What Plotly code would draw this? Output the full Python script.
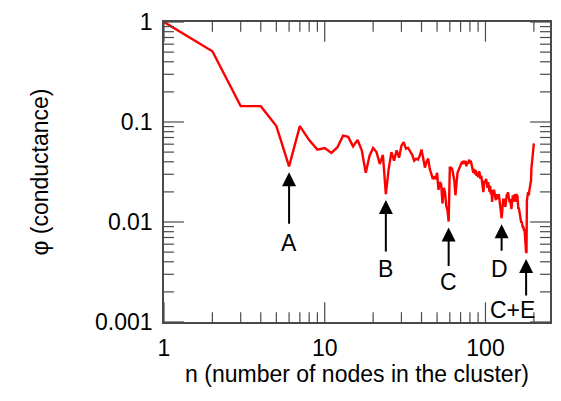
import math
import plotly.graph_objects as go

# cluster size n and conductance phi
n_values = list(range(1, 201))
phi_values = [
    1.0, 0.51, 0.144, 0.144, 0.091, 0.036, 0.091, 0.066, 0.053, 0.055,
    0.049, 0.056, 0.073, 0.071, 0.057, 0.066, 0.052, 0.031, 0.046, 0.055,
    0.050, 0.038, 0.047, 0.019, 0.034, 0.050, 0.041, 0.052, 0.044, 0.058,
    0.063, 0.054, 0.055, 0.051, 0.047, 0.041, 0.043, 0.042, 0.046, 0.053,
    0.042, 0.035, 0.040, 0.043, 0.034, 0.030, 0.027, 0.028, 0.027, 0.031,
    0.021, 0.025, 0.024, 0.0153, 0.022, 0.020, 0.0145, 0.0131, 0.0101, 0.035,
    0.035, 0.034, 0.030, 0.026, 0.0185, 0.024, 0.031, 0.033, 0.036, 0.037,
    0.039, 0.038, 0.041, 0.038, 0.041, 0.036, 0.040, 0.038, 0.042, 0.039,
    0.041, 0.036, 0.035, 0.031, 0.034, 0.030, 0.033, 0.029, 0.031, 0.028,
    0.032, 0.031, 0.027, 0.029, 0.026, 0.023, 0.0199, 0.024, 0.026, 0.025,
    0.027, 0.024, 0.022, 0.025, 0.021, 0.020, 0.023, 0.019, 0.021, 0.0159,
    0.020, 0.019, 0.021, 0.019, 0.018, 0.0165, 0.019, 0.017, 0.018, 0.0171,
    0.019, 0.016, 0.0145, 0.0136, 0.0122, 0.0109, 0.0125, 0.0150, 0.0171, 0.016,
    0.0171, 0.015, 0.0142, 0.016, 0.0175, 0.019, 0.0185, 0.0199, 0.018, 0.0185,
    0.016, 0.0159, 0.017, 0.0145, 0.0135, 0.015, 0.0165, 0.0185, 0.0178, 0.016,
    0.0175, 0.019, 0.0175, 0.0159, 0.017, 0.0191, 0.018, 0.0185, 0.0142, 0.0135,
    0.014, 0.013, 0.0126, 0.012, 0.011, 0.0105, 0.0098, 0.0101, 0.0094, 0.0094,
    0.0087, 0.0090, 0.0085, 0.0081, 0.0085, 0.0075, 0.0068, 0.0062, 0.0049, 0.0050,
    0.0165, 0.018, 0.0175, 0.0199, 0.019, 0.0185, 0.020, 0.0214, 0.022, 0.023,
    0.024, 0.026, 0.034, 0.037, 0.039, 0.044, 0.050, 0.055, 0.058, 0.061,
]

# marked local minima
marker_labels = ["A", "B", "C", "D", "C+E"]
marker_n = [6, 24, 59, 126, 179]

x_tick_vals = [1, 10, 100]
x_tick_text = ["1", "10", "100"]
x_minor_vals = [2, 3, 4, 5, 6, 7, 8, 9, 20, 30, 40, 50, 60, 70, 80, 90, 200]
y_tick_vals = [0.001, 0.01, 0.1, 1]
y_tick_text = ["0.001", "0.01", "0.1", "1"]
y_minor_vals = [m * d for d in (0.001, 0.01, 0.1) for m in range(2, 10)]

FONT = "Liberation Sans, Arial, Helvetica, sans-serif"
AXIS_COLOR = "#4a4a4a"
X_RANGE = [0, math.log10(252)]
Y_RANGE = [-3, 0]
PLOT_W = 561 - 164 - 9
PLOT_H = 401 - 17 - 79

fig = go.Figure()
fig.add_trace(go.Scatter(
    x=n_values, y=phi_values, mode="lines",
    line=dict(color="#ff0000", width=2.4),
    showlegend=False, hoverinfo="skip",
))

# arrow tail offsets (px) and label offsets (px below tip, x shift)
arrow_len = [53, 53, 40, 28, 38]
label_dy = [71, 69, 55, 45, 51]
label_dx = [0, 0, 0, -2, -14]
gap_px = 6
px_per_decade = PLOT_H / 3

for lab, nn, al, ld, dx in zip(marker_labels, marker_n, arrow_len, label_dy, label_dx):
    val = phi_values[n_values.index(nn)]
    tip = math.log10(val) - gap_px / px_per_decade
    fig.add_annotation(
        x=math.log10(nn), y=tip, xref="x", yref="y",
        text="", showarrow=True, arrowhead=2, arrowsize=1.4, arrowwidth=2,
        arrowcolor="black", ax=0, ay=al,
    )
    fig.add_annotation(
        x=math.log10(nn), y=tip, xref="x", yref="y",
        text=lab, showarrow=False, xshift=dx, yshift=-ld,
        font=dict(family=FONT, size=23, color="black"),
    )

# tick marks (inside, on all four sides), positioned on the axes' own scales
tick_line = dict(color=AXIS_COLOR, width=1.2)


def add_x_tick(v, length):
    frac = length / PLOT_H
    for y0, y1 in ((0, frac), (1, 1 - frac)):
        fig.add_shape(type="line", xref="x", yref="y domain",
                      x0=v, x1=v, y0=y0, y1=y1,
                      line=tick_line, layer="above")


def add_y_tick(v, length):
    frac = length / PLOT_W
    for x0, x1 in ((0, frac), (1, 1 - frac)):
        fig.add_shape(type="line", xref="x domain", yref="y",
                      x0=x0, x1=x1, y0=v, y1=v,
                      line=tick_line, layer="above")


for v in x_tick_vals:
    add_x_tick(v, 20)
for v in x_minor_vals:
    add_x_tick(v, 10)
for v in y_tick_vals:
    add_y_tick(v, 20)
for v in y_minor_vals:
    add_y_tick(v, 10)

axis_common = dict(
    showline=True, linecolor=AXIS_COLOR, linewidth=1.5, mirror=True,
    ticks="", showgrid=False, zeroline=False,
)

fig.update_layout(
    width=561, height=401,
    margin=dict(l=164, r=9, t=17, b=79),
    paper_bgcolor="white", plot_bgcolor="white",
    xaxis=dict(
        type="log", range=X_RANGE,
        tickvals=x_tick_vals, ticktext=x_tick_text, ticklabelstandoff=5,
        tickfont=dict(family=FONT, size=23, color="black"),
        title=dict(text="n (number of nodes in the cluster)",
                   font=dict(family=FONT, size=23, color="black"), standoff=1),
        **axis_common,
    ),
    yaxis=dict(
        type="log", range=Y_RANGE,
        tickvals=y_tick_vals, ticktext=y_tick_text, ticklabelstandoff=5,
        tickfont=dict(family=FONT, size=23, color="black"),
        title=dict(text="φ (conductance)",
                   font=dict(family=FONT, size=23, color="black"), standoff=40),
        **axis_common,
    ),
)

fig.write_html("out.html")
